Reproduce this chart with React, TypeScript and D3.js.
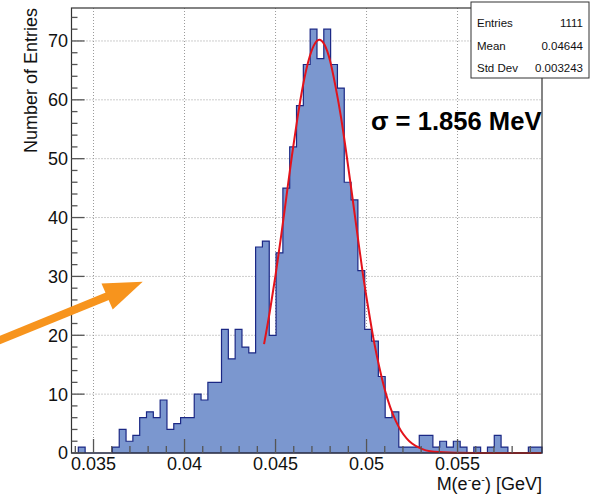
import React from "react";
import * as d3 from "d3";

// ---- data ----
const xMin = 0.03379;
const xMax = 0.05964;
const binCounts = [
  0, 1, 0, 0, 0, 0, 1, 4, 2, 3, 6, 7, 6, 9, 4, 5, 6, 6, 10, 9, 12, 12, 21, 16, 21, 18, 17,
  35, 36, 20, 34, 45, 52, 59, 66, 72, 67, 72, 66, 62, 46, 43, 31, 21, 19, 13, 6, 7, 1, 1, 1,
  3, 3, 1, 2, 1, 2, 1, 0, 1, 0, 1, 3, 1, 0, 0, 0, 1, 1,
];
const fitX = [
  0.04437, 0.0447, 0.045, 0.0453, 0.0456, 0.0459, 0.0462, 0.0465, 0.0468, 0.0471, 0.0474,
  0.0477, 0.048, 0.0483, 0.0486, 0.0489, 0.0492, 0.0495, 0.0498, 0.0501, 0.0504, 0.0507,
  0.051, 0.0513, 0.0516, 0.0519, 0.0522, 0.0525, 0.053, 0.0535, 0.0545, 0.056, 0.0596,
];
const fitY = [
  18.5, 24.3, 30.2, 36.7, 43.6, 50.5, 56.8, 62.3, 66.5, 69.2, 70.2, 69.3, 66.6, 62.2, 57.0,
  50.7, 44.0, 37.1, 30.4, 24.5, 19.1, 14.6, 10.8, 7.8, 5.5, 3.75, 2.5, 1.6, 0.75, 0.3, 0.08,
  0.02, 0,
];
const xTickMajor = [0.035, 0.04, 0.045, 0.05, 0.055];
const xTickLabels = ["0.035", "0.04", "0.045", "0.05", "0.055"];
const yTickMajor = [0, 10, 20, 30, 40, 50, 60, 70];
const statsLabels = ["Entries", "Mean", "Std Dev"];
const statsValues = ["1111", "0.04644", "0.003243"];
const sigmaText = "σ = 1.856 MeV";
const yTitle = "Number of Entries";

const FONT = "'Liberation Sans', Arial, Helvetica, sans-serif";

export default function App() {
  const W = 596,
    H = 498;
  const left = 71.5,
    right = 542,
    top = 8,
    bottom = 453;
  const x = d3.scaleLinear().domain([xMin, xMax]).range([left, right]);
  const y = d3.scaleLinear().domain([0, 75.6]).range([bottom, top]);
  const nb = binCounts.length;
  const bw = (xMax - xMin) / nb;

  // histogram step path
  let d = `M${x(xMin)},${y(0)}`;
  binCounts.forEach((c, i) => {
    const x0 = x(xMin + i * bw);
    const x1 = x(xMin + (i + 1) * bw);
    d += `L${x0},${y(c)}L${x1},${y(c)}`;
  });
  d += `L${x(xMax)},${y(0)}Z`;

  const fitLine = d3
    .line<number>()
    .x((_, i) => x(fitX[i]))
    .y((v) => y(v))
    .curve(d3.curveMonotoneX)(fitY) as string;

  const xMinor = d3.range(0.034, 0.0596, 0.001).map((v) => +v.toFixed(4));
  const yMinor = d3.range(0, 76, 2);

  const tickColor = "#555";

  return (
    <svg
      width={W}
      height={H}
      style={{ position: "absolute", left: 0, top: 0, background: "#fff" }}
      fontFamily={FONT}
    >
      <rect x={0} y={0} width={W} height={H} fill="#fff" />
      {/* grid */}
      <g stroke="#9a9a9a" strokeWidth={1} strokeDasharray="1,2">
        {xTickMajor.map((v) => (
          <line key={"gx" + v} x1={x(v)} x2={x(v)} y1={top} y2={bottom} />
        ))}
        {yTickMajor
          .filter((v) => v > 0)
          .map((v) => (
            <line key={"gy" + v} x1={left} x2={right} y1={y(v)} y2={y(v)} />
          ))}
      </g>
      {/* histogram */}
      <path d={d} fill="#7b97cf" stroke="#1b2885" strokeWidth={1.2} strokeLinejoin="miter" />
      {/* fit */}
      <path d={fitLine} fill="none" stroke="#e3131b" strokeWidth={2} />
      {/* frame */}
      <rect x={left} y={top} width={right - left} height={bottom - top} fill="none" stroke="#333" strokeWidth={1.2} />
      {/* ticks */}
      <g stroke={tickColor} strokeWidth={1.3}>
        {xMinor.map((v) => {
          const major = xTickMajor.some((m) => Math.abs(m - v) < 1e-7);
          return (
            <line key={"xt" + v} x1={x(v)} x2={x(v)} y1={bottom} y2={bottom - (major ? 14 : 7)} />
          );
        })}
        {yMinor.map((v) => {
          const major = v % 10 === 0;
          return (
            <line key={"yt" + v} x1={left} x2={left + (major ? 13 : 6)} y1={y(v)} y2={y(v)} />
          );
        })}
      </g>
      {/* tick labels */}
      <g fontSize={18} fill="#111">
        {xTickMajor.map((v, i) => (
          <text key={"xl" + v} x={x(v)} y={470} textAnchor="middle">
            {xTickLabels[i]}
          </text>
        ))}
        {yTickMajor.map((v) => (
          <text key={"yl" + v} x={68} y={y(v)} dy="0.36em" textAnchor="end">
            {v}
          </text>
        ))}
      </g>
      {/* axis titles */}
      <text x={right} y={490} textAnchor="end" fontSize={18} fill="#111">
        M(e
        <tspan dy={-7} fontSize={11}>
          -
        </tspan>
        <tspan dy={7}>e</tspan>
        <tspan dy={-7} fontSize={11}>
          -
        </tspan>
        <tspan dy={7}>) [GeV]</tspan>
      </text>
      <text
        transform={`translate(37,${top}) rotate(-90)`}
        textAnchor="end"
        fontSize={18}
        fill="#111"
      >
        {yTitle}
      </text>
      {/* sigma annotation */}
      <text x={371} y={130} fontSize={25.6} fontWeight="bold" fill="#000">
        {sigmaText}
      </text>
      {/* stats box */}
      <g>
        <rect x={471} y={2} width={118} height={76} fill="#fff" stroke="#333" strokeWidth={1} />
        {statsLabels.map((s, i) => (
          <g key={s} fontSize={11.5} fill="#111">
            <text x={477} y={27 + i * 22.5}>
              {s}
            </text>
            <text x={583} y={27 + i * 22.5} textAnchor="end">
              {statsValues[i]}
            </text>
          </g>
        ))}
      </g>
      {/* orange arrow */}
      <g fill="#f7941d" stroke="none">
        <line x1={-6} y1={342.5} x2={108} y2={296} stroke="#f7941d" strokeWidth={8} />
        <polygon points="142.7,281.7 101.5,283.5 112.7,309.5" />
      </g>
    </svg>
  );
}
